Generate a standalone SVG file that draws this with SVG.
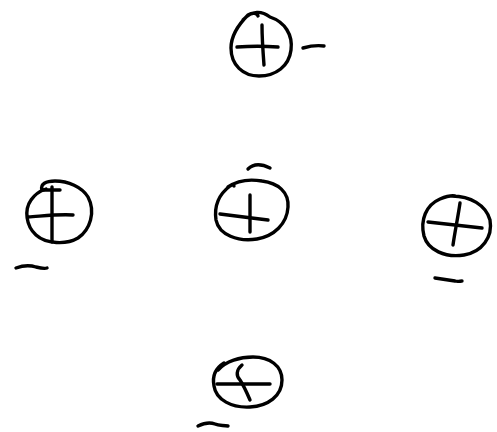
<svg xmlns="http://www.w3.org/2000/svg" width="497" height="432" viewBox="0 0 497 432">
<style>
.s{fill:none;stroke:#000;stroke-width:3.4;stroke-linecap:round;stroke-linejoin:round}
</style>
<rect width="497" height="432" fill="#fff"/>
<g id="node-top" class="s">
<path d="M243,20 C252,10 262,11 270,17 C285,22 293,35 291,50 C289,66 276,76 259,76 C243,76 231,65 231,48 C231,35 238,25 248,15 C253,12 257,13 258,16"/>
<path d="M237,47 C250,46 265,46 278,47"/>
<path d="M262,25 C262,38 263,52 264,65"/>
<path d="M303,48 C310,46 317,45 324,46"/>
</g>
<g id="node-center" class="s">
<path d="M228,187 C238,180 250,179 262,181 C278,183 289,192 288,207 C287,224 274,236 257,239 C238,242 219,235 216,220 C214,206 218,195 230,186 C233,184 234,185 234,186"/>
<path d="M220,214 C235,216 252,218 268,220"/>
<path d="M250,195 C250,208 250,220 250,232"/>
<path d="M248,169 C254,163 262,164 270,168"/>
</g>
<g id="node-left" class="s">
<path d="M42,190 C40,184 46,181 55,181 C68,181 82,187 88,197 C96,212 90,230 78,238 C66,245 46,244 36,235 C26,226 24,210 31,200 C35,194 40,191 46,189"/>
<path d="M28,217 C43,216 58,214 73,215"/>
<path d="M52,187 C52,205 52,224 52,242"/>
<path d="M42,190 C48,190 54,190 60,190"/>
<path d="M16,268 C24,265 30,265 36,267 C40,268 44,269 47,268"/>
</g>
<g id="node-right" class="s">
<path d="M452,196 C470,196 486,205 490,220 C493,237 482,252 464,255 C445,258 428,250 424,236 C420,220 426,205 440,199 C445,197 450,195 455,196"/>
<path d="M428,222 C446,224 464,226 482,228"/>
<path d="M460,203 C458,217 455,231 453,245"/>
<path d="M435,278 C442,279 448,280 455,281 C458,282 460,281 462,281"/>
</g>
<g id="node-bottom" class="s">
<path d="M218,370 C226,361 240,357 253,357 C270,357 282,366 282,380 C282,396 268,406 250,407 C232,408 216,400 214,386 C212,376 216,368 224,363"/>
<path d="M217,384 C235,384 253,384 270,384"/>
<path d="M242,365 C236,370 236,376 240,380 C244,386 247,393 250,400"/>
<path d="M198,426 C204,423 210,422 215,424 C219,426 223,425 228,426"/>
</g>
<g id="connectors"></g>
</svg>
